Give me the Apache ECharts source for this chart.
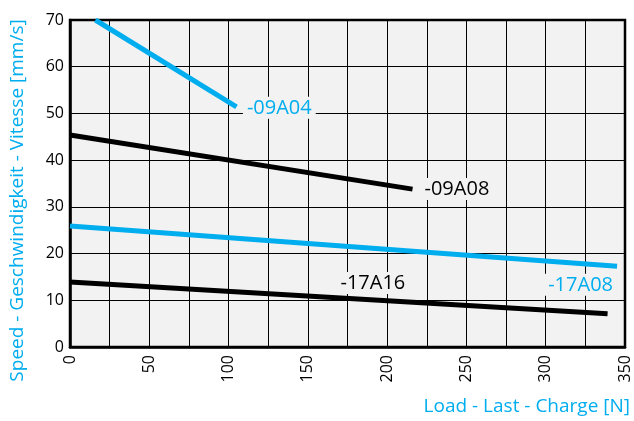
<!DOCTYPE html>
<html><head><meta charset="utf-8">
<script src="https://cdn.jsdelivr.net/npm/echarts@6/dist/echarts.min.js"></script>
<style>html,body{margin:0;padding:0;background:#fff}#c{width:634px;height:421px}</style>
</head><body><div id="c"></div>
<script>
var s09A04 = [[16, 70], [105, 51.4]];
var s09A08 = [[0, 45.4], [216, 33.8]];
var s17A08 = [[0, 25.9], [345, 17.3]];
var s17A16 = [[0, 13.9], [339, 7.1]];
var seriesNames = ['-09A04', '-09A08', '-17A08', '-17A16'];
var labelAt = [[132, 51.2], [244, 33.8], [322, 13.3], [191, 13.7]];
var xTicks = [0, 50, 100, 150, 200, 250, 300, 350];
var cyan = '#00adee';
var font = '"Open Sans", "Noto Sans", sans-serif';

function lbl(i, color) {
  return {
    symbol: 'circle', symbolSize: 0, silent: true,
    data: [{ coord: labelAt[i], value: seriesNames[i] }],
    label: { show: true, position: 'inside', formatter: seriesNames[i], color: color,
      fontFamily: font, fontSize: 20, backgroundColor: '#f2f2f2', padding: [1, 4] }
  };
}
function line(name, data, color, i) {
  return { name: name, type: 'line', data: data, symbol: 'none', animation: false,
    lineStyle: { color: color, width: 5 }, itemStyle: { color: color },
    markPoint: lbl(i, color), z: 3 };
}
var chart = echarts.init(document.getElementById('c'));
chart.setOption({
  animation: false,
  grid: { left: 65, right: 9, top: 20, bottom: 74, show: true, backgroundColor: '#f2f2f2',
    borderColor: '#000', borderWidth: 2.5 },
  xAxis: { type: 'value', min: 0, max: 350, interval: 25,
    name: 'Load - Last - Charge [N]', nameLocation: 'end', nameGap: 5,
    nameTextStyle: { color: cyan, fontFamily: font, fontSize: 19, align: 'right', verticalAlign: 'top', padding: [50, 0, 0, 0] },
    axisLine: { lineStyle: { color: '#000', width: 2.5 } }, axisTick: { show: false },
    splitLine: { lineStyle: { color: '#000', width: 1 } },
    axisLabel: { rotate: 90, color: '#000', fontFamily: font, fontSize: 16, margin: 8, padding: [0, 0, 12, 0],
      formatter: function (v) { return xTicks.indexOf(v) >= 0 ? String(v) : ''; } } },
  yAxis: { type: 'value', min: 0, max: 70, interval: 10,
    name: 'Speed - Geschwindigkeit - Vitesse [mm/s]', nameLocation: 'middle', nameGap: 43,
    nameTextStyle: { color: cyan, fontFamily: font, fontSize: 19, padding: [0, 34, 0, 0] },
    axisLine: { show: true, lineStyle: { color: '#000', width: 2.5 } }, axisTick: { show: false },
    splitLine: { lineStyle: { color: '#000', width: 1 } },
    axisLabel: { color: '#000', fontFamily: font, fontSize: 16, margin: 6 } },
  series: [
    line(seriesNames[0], s09A04, cyan, 0),
    line(seriesNames[1], s09A08, '#000', 1),
    line(seriesNames[2], s17A08, cyan, 2),
    line(seriesNames[3], s17A16, '#000', 3)
  ]
});
</script></body></html>
